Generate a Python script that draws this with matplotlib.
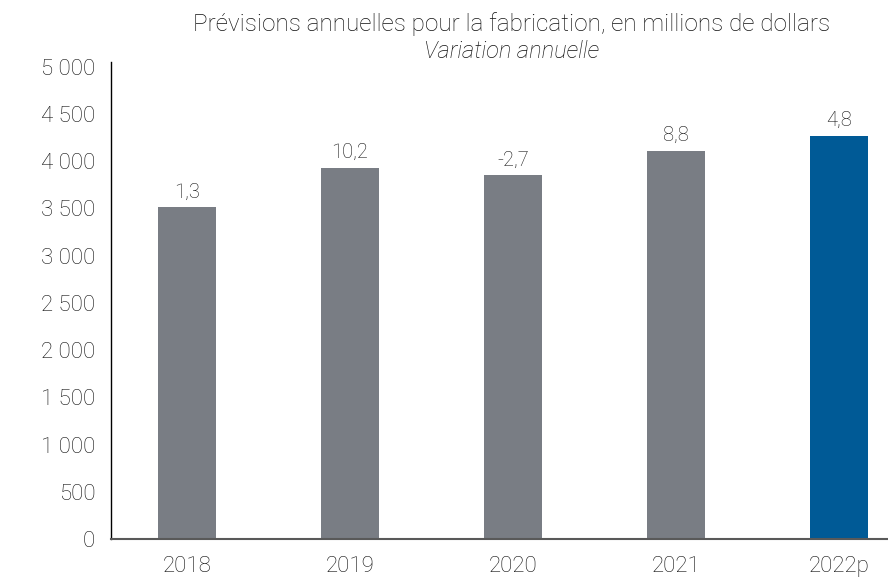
import matplotlib
matplotlib.use("Agg")
import matplotlib.pyplot as plt
from matplotlib.ticker import FuncFormatter, MultipleLocator

# --- data ---
years = ["2018", "2019", "2020", "2021", "2022p"]
values = [3510, 3930, 3850, 4110, 4270]
growth = ["1,3", "10,2", "-2,7", "8,8", "4,8"]
colors = ["#797d84", "#797d84", "#797d84", "#797d84", "#005a96"]

plt.rcParams["font.family"] = ["Roboto", "DejaVu Sans"]
plt.rcParams["font.weight"] = "light"
text_color = "#111111"

fig = plt.figure(figsize=(8.88, 5.82), dpi=100)
ax = fig.add_axes([110.5 / 888, 1 - 539 / 582, (887 - 110.5) / 888, (539 - 62) / 582])

x = range(len(years))
bars = ax.bar(x, values, width=0.356, color=colors, zorder=2)

for b, lab in zip(bars, growth):
    ax.annotate(lab, (b.get_x() + b.get_width() / 2, b.get_height()),
                xytext=(0, 4), textcoords="offset points",
                ha="center", va="bottom", fontsize=14.5, color=text_color)

ax.set_xlim(-0.469, 4.294)
ax.set_ylim(0, 5050)
ax.yaxis.set_major_locator(MultipleLocator(500))
ax.yaxis.set_major_formatter(FuncFormatter(lambda v, p: f"{v:,.0f}".replace(",", " ")))
ax.set_xticks(list(x))
ax.set_xticklabels(years)
ax.tick_params(axis="both", length=0, labelsize=16, colors=text_color)
ax.tick_params(axis="y", pad=11)
ax.tick_params(axis="x", pad=12)

for s in ["top", "right"]:
    ax.spines[s].set_visible(False)
ax.spines["left"].set_color("#000000")
ax.spines["left"].set_linewidth(1.0)
ax.spines["bottom"].set_color("#595959")
ax.spines["bottom"].set_linewidth(1.5)
ax.spines["bottom"].set_zorder(3)

fig.text(512 / 888, 1 - 24 / 582, "Prévisions annuelles pour la fabrication, en millions de dollars",
         ha="center", va="center", fontsize=17.5, color=text_color)
fig.text(512 / 888, 1 - 52 / 582, "Variation annuelle",
         ha="center", va="center", fontsize=17, style="italic", color=text_color)

fig.savefig("out.png", dpi=100)
